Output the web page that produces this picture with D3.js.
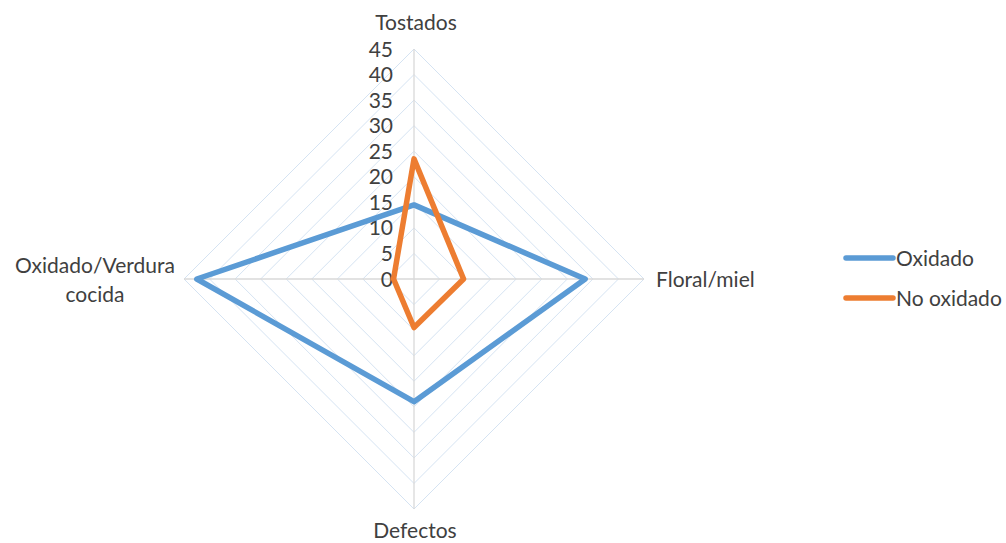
<!DOCTYPE html>
<html>
<head>
<meta charset="utf-8">
<script src="https://cdn.jsdelivr.net/npm/d3@7"></script>
<style>
  html, body { margin: 0; padding: 0; background: #fff; }
  svg text { font-family: Lato, "Open Sans", sans-serif; fill: #404040; }
</style>
</head>
<body>
<svg id="chart" width="1006" height="543"></svg>
<script>
// Aroma attributes (radar axes, clockwise from top)
const categories = ["Tostados", "Floral/miel", "Defectos", "Oxidado/Verdura cocida"];
const seriesNames = ["Oxidado", "No oxidado"];
const oxidado = [14.5, 33.5, 24, 42.5];
const noOxidado = [23.5, 9.7, 9.5, 4];
const tickValues = [0, 5, 10, 15, 20, 25, 30, 35, 40, 45];
const colors = ["#5B9BD5", "#ED7D31"];

const svg = d3.select("#chart");
const cx = 414, cy = 279, R = 230;
const fontSize = 21;

const r = d3.scaleLinear().domain([0, 45]).range([0, R]);
const angle = d3.scalePoint().domain(categories).range([0, 2 * Math.PI * 3 / 4]);

function pt(cat, v) {
  const a = angle(cat) - Math.PI / 2;
  return [cx + r(v) * Math.cos(a), cy + r(v) * Math.sin(a)];
}

// Diamond grid rings
const g = svg.append("g");
tickValues.filter(t => t > 0).forEach(t => {
  g.append("path")
    .attr("d", d3.line()(categories.map(c => pt(c, t))) + "Z")
    .attr("fill", "none")
    .attr("stroke", "#d5e3f2")
    .attr("stroke-width", 1);
});

// Spokes
categories.forEach(c => {
  const [x, y] = pt(c, 45);
  g.append("line")
    .attr("x1", cx).attr("y1", cy).attr("x2", x).attr("y2", y)
    .attr("stroke", "#d9d9d9").attr("stroke-width", 1.3);
});

// Value ticks along the top spoke
svg.append("g").selectAll("text")
  .data(tickValues)
  .join("text")
  .attr("x", cx - 21)
  .attr("y", d => cy - r(d))
  .attr("dy", "0.36em")
  .attr("text-anchor", "end")
  .attr("font-size", fontSize)
  .text(d => d);

// Category labels
const labelPos = {
  "Tostados": { x: 416, y: 22, anchor: "middle" },
  "Floral/miel": { x: 656, y: cy, anchor: "start" },
  "Defectos": { x: 415, y: 530, anchor: "middle" },
  "Oxidado/Verdura cocida": { x: 95, y: cy, anchor: "middle" }
};
categories.forEach(c => {
  const p = labelPos[c];
  const t = svg.append("text")
    .attr("x", p.x).attr("y", p.y)
    .attr("text-anchor", p.anchor)
    .attr("font-size", fontSize);
  if (c === "Oxidado/Verdura cocida") {
    t.append("tspan").attr("x", p.x).attr("dy", "-0.3em").text("Oxidado/Verdura");
    t.append("tspan").attr("x", p.x).attr("dy", "1.38em").text("cocida");
  } else {
    t.attr("dy", "0.36em").text(c);
  }
});

// Series polygons
const data = [oxidado, noOxidado];
data.forEach((vals, i) => {
  const pts = categories.map((c, j) => pt(c, vals[j]));
  svg.append("path")
    .attr("d", d3.line()(pts) + "Z")
    .attr("fill", "none")
    .attr("stroke", colors[i])
    .attr("stroke-width", 5.5)
    .attr("stroke-linejoin", "round");
});

// Legend
const legend = svg.append("g");
seriesNames.forEach((name, i) => {
  const y = 258 + i * 40;
  legend.append("line")
    .attr("x1", 846).attr("x2", 893).attr("y1", y).attr("y2", y)
    .attr("stroke", colors[i]).attr("stroke-width", 5.5)
    .attr("stroke-linecap", "round");
  legend.append("text")
    .attr("x", 896).attr("y", y).attr("dy", "0.36em")
    .attr("font-size", fontSize)
    .text(name);
});
</script>
</body>
</html>
